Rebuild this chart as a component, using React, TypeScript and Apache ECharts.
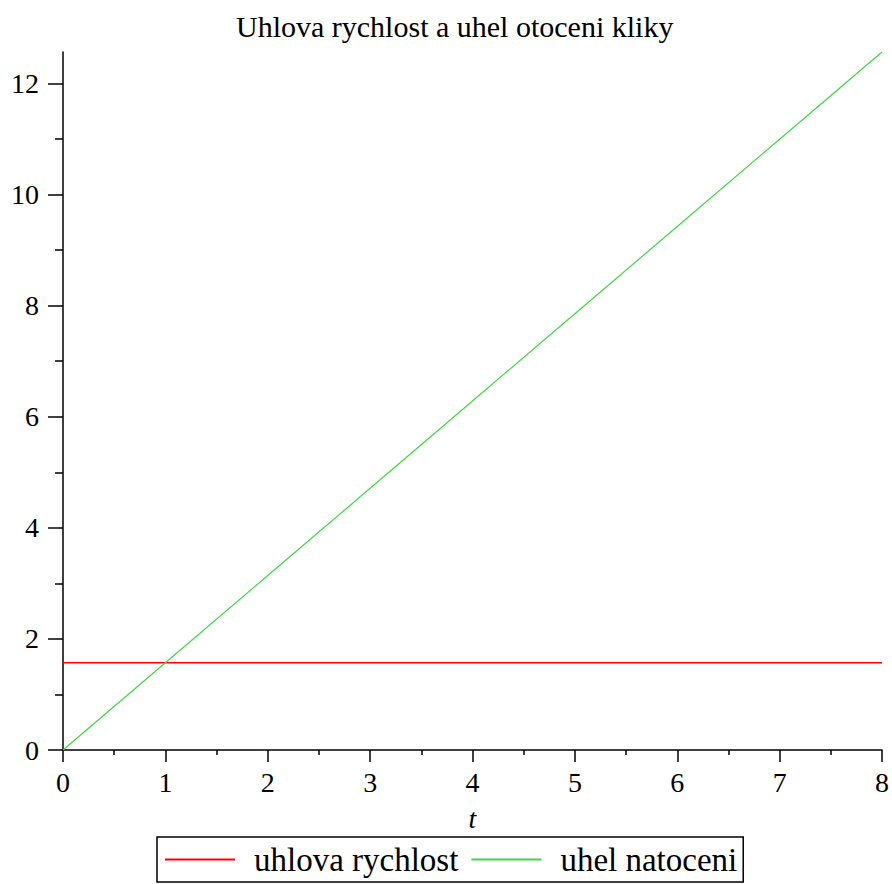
import React, { useEffect, useRef } from "react";
import * as echarts from "echarts";

const titleText = "Uhlova rychlost a uhel otoceni kliky";
const tValues = [0, 1, 2, 3, 4, 5, 6, 7, 8];
const omegaValues = [1.571, 1.571, 1.571, 1.571, 1.571, 1.571, 1.571, 1.571, 1.571];
const thetaValues = [0, 1.571, 3.142, 4.712, 6.283, 7.854, 9.425, 10.996, 12.566];
const yMajorTicks = [0, 2, 4, 6, 8, 10, 12];
const yMinorTicks = [1, 3, 5, 7, 9, 11];
const seriesNames = ["uhlova rychlost", "uhel natoceni"];
const xName = "t";

const FONT = "Liberation Serif";

export default function App() {
  const ref = useRef<HTMLDivElement>(null);
  useEffect(() => {
    if (!ref.current) return;
    const chart = echarts.init(ref.current, null, { renderer: "svg" });
    const yMax = 12.566;
    chart.setOption({
      animation: false,
      backgroundColor: "#ffffff",
      title: {
        text: titleText,
        left: 231,
        top: 6,
        textStyle: { fontFamily: FONT, fontSize: 30, fontWeight: "normal", color: "#000" },
      },
      legend: {
        left: 157,
        top: 837,
        data: seriesNames,
        icon: "rect",
        borderColor: "#000",
        borderWidth: 1.5,
        padding: [6, 6, 6, 8],
        itemWidth: 70,
        itemHeight: 2,
        itemGap: 13,
        textStyle: { fontFamily: FONT, fontSize: 33, color: "#000", padding: [0, 0, 0, 14] },
      },
      grid: { left: 63, right: 8, top: 52, bottom: 134, containLabel: false },
      xAxis: {
        type: "value",
        min: 0,
        max: 8,
        interval: 1,
        name: xName,
        nameLocation: "middle",
        nameGap: 54,
        nameTextStyle: { fontFamily: FONT, fontSize: 28, fontStyle: "italic", color: "#000" },
        axisLine: { show: true, onZero: false, lineStyle: { color: "#000", width: 1.5 } },
        axisTick: { show: true, length: 12, lineStyle: { color: "#000", width: 1.5 } },
        minorTick: { show: true, splitNumber: 2, length: 5, lineStyle: { color: "#000", width: 1.5 } },
        axisLabel: { fontFamily: FONT, fontSize: 28, color: "#000", margin: 18 },
        splitLine: { show: false },
      },
      yAxis: [
        {
          type: "value",
          min: 0,
          max: yMax,
          position: "left",
          axisLine: { show: true, onZero: false, lineStyle: { color: "#000", width: 1.5 } },
          axisTick: { show: true, length: 15, customValues: yMajorTicks, lineStyle: { color: "#000", width: 1.5 } },
          axisLabel: { fontFamily: FONT, fontSize: 28, color: "#000", margin: 24, customValues: yMajorTicks },
          splitLine: { show: false },
        },
        {
          type: "value",
          min: 0,
          max: yMax,
          position: "left",
          axisLine: { show: false },
          axisTick: { show: true, length: 8, customValues: yMinorTicks, lineStyle: { color: "#000", width: 1.5 } },
          axisLabel: { show: false },
          splitLine: { show: false },
        },
      ],
      series: [
        {
          name: seriesNames[0],
          type: "line",
          symbol: "none",
          data: tValues.map((t, i) => [t, omegaValues[i]]),
          lineStyle: { color: "#ff0000", width: 1.5 },
          itemStyle: { color: "#ff0000" },
        },
        {
          name: seriesNames[1],
          type: "line",
          symbol: "none",
          data: tValues.map((t, i) => [t, thetaValues[i]]),
          lineStyle: { color: "#40d840", width: 1.2 },
          itemStyle: { color: "#40d840" },
        },
      ],
    });
    return () => chart.dispose();
  }, []);
  return (
    <div
      ref={ref}
      style={{ position: "fixed", left: 0, top: 0, width: 892, height: 884 }}
    />
  );
}
